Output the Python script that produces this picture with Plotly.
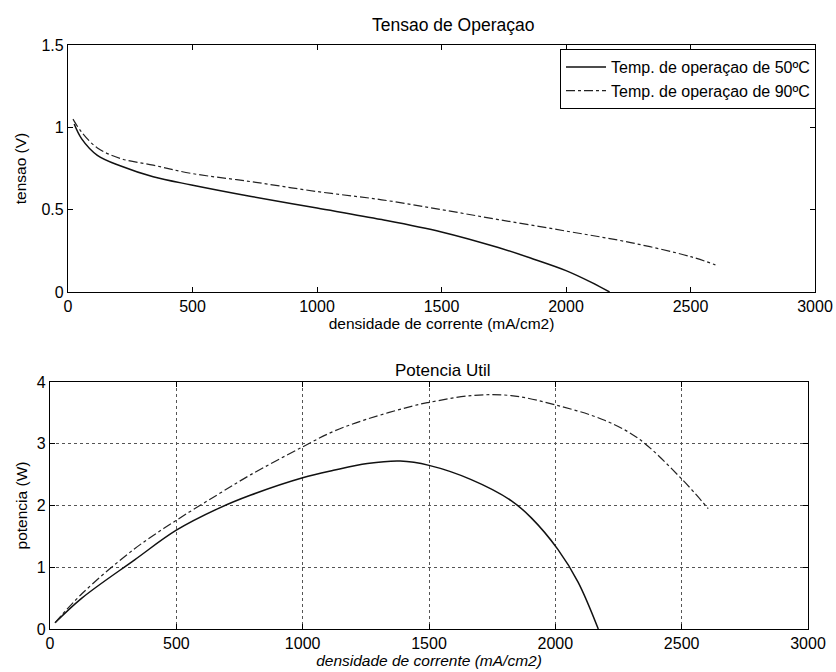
import plotly.graph_objects as go

# ---- data ----
v50_i = [25, 55, 118, 212, 342, 496, 736, 1000, 1260, 1500, 1728, 1860, 2000, 2100, 2175]
v50 = [1.02, 0.93, 0.83, 0.765, 0.70, 0.65, 0.58, 0.51, 0.44, 0.365, 0.27, 0.205, 0.13, 0.06, 0.0]

v90_i = [20, 55, 118, 212, 342, 496, 736, 1000, 1260, 1500, 1728, 2000, 2260, 2500, 2600]
v90 = [1.05, 0.97, 0.875, 0.81, 0.77, 0.72, 0.67, 0.61, 0.56, 0.50, 0.44, 0.37, 0.30, 0.215, 0.165]

p50_i = [20, 126, 335, 500, 665, 795, 1000, 1122, 1256, 1386, 1500, 1667, 1825, 1905, 2010, 2090, 2170]
p50 = [0.1, 0.5, 1.12, 1.6, 1.95, 2.17, 2.45, 2.57, 2.68, 2.72, 2.65, 2.42, 2.08, 1.8, 1.29, 0.76, 0.0]

p90_i = [20, 126, 335, 500, 665, 795, 1000, 1122, 1256, 1453, 1500, 1667, 1825, 2000, 2195, 2330, 2500, 2605]
p90 = [0.1, 0.57, 1.3, 1.76, 2.18, 2.5, 2.95, 3.2, 3.4, 3.63, 3.67, 3.78, 3.78, 3.63, 3.38, 3.08, 2.43, 1.95]

names = ["Temp. de operaçao de 50ºC", "Temp. de operaçao de 90ºC"]
titles = ["Tensao de Operaçao", "Potencia Util"]
xlabel = "densidade de corrente (mA/cm2)"
ylabels = ["tensao (V)", "potencia (W)"]
xticks = [0, 500, 1000, 1500, 2000, 2500, 3000]
yticks_top = [0, 0.5, 1, 1.5]
yticks_bot = [0, 1, 2, 3, 4]

W, H = 836, 672
FONT = "Liberation Sans, Arial, Helvetica, sans-serif"

fig = go.Figure()
line50 = dict(color="#111111", width=1.5)
line90 = dict(color="#222222", width=1.2, dash="dashdot")

fig.add_trace(go.Scatter(x=v50_i, y=v50, mode="lines", name=names[0], line=line50,
                         line_shape="spline", xaxis="x", yaxis="y"))
fig.add_trace(go.Scatter(x=v90_i, y=v90, mode="lines", name=names[1], line=line90,
                         line_shape="spline", xaxis="x", yaxis="y"))
fig.add_trace(go.Scatter(x=p50_i, y=p50, mode="lines", name=names[0], line=line50,
                         line_shape="spline", xaxis="x2", yaxis="y2", showlegend=False))
fig.add_trace(go.Scatter(x=p90_i, y=p90, mode="lines", name=names[1], line=line90,
                         line_shape="spline", xaxis="x2", yaxis="y2", showlegend=False))

def px_x(p):
    return p / W

def px_y(p):
    return 1 - p / H

common = dict(showline=True, linecolor="black", linewidth=1.2, mirror="allticks",
              ticks="inside", ticklen=5, tickcolor="black", zeroline=False,
              automargin=False,
              tickfont=dict(family=FONT, size=16, color="black"))

fig.update_layout(
    width=W, height=H,
    margin=dict(l=0, r=0, t=0, b=0, autoexpand=False),
    paper_bgcolor="white", plot_bgcolor="white",
    font=dict(family=FONT, color="black"),
    xaxis=dict(domain=[px_x(68), px_x(815)], range=[0, 3000], tickvals=xticks,
               anchor="y", showgrid=False,
               title=dict(text=xlabel, font=dict(size=15.5), standoff=2), **common),
    yaxis=dict(domain=[px_y(292), px_y(45)], range=[0, 1.5], tickvals=yticks_top,
               anchor="x", showgrid=False,
               title=dict(text=ylabels[0], font=dict(size=15.5), standoff=11), **common),
    xaxis2=dict(domain=[px_x(50), px_x(808)], range=[0, 3000], tickvals=xticks,
                anchor="y2", showgrid=True, gridcolor="#555555", griddash="dot", gridwidth=1,
                title=dict(text="<i>" + xlabel + "</i>", font=dict(size=15.5), standoff=2), **common),
    yaxis2=dict(domain=[px_y(629), px_y(382)], range=[0, 4], tickvals=yticks_bot,
                anchor="x2", showgrid=True, gridcolor="#555555", griddash="dot", gridwidth=1,
                title=dict(text=ylabels[1], font=dict(size=15.5), standoff=5), **common),
    legend=dict(x=px_x(816), y=px_y(49), xanchor="right", yanchor="top",
                bgcolor="white", bordercolor="black", borderwidth=1,
                font=dict(family=FONT, size=16, color="black"),
                tracegroupgap=0, itemwidth=40),
    showlegend=True,
    annotations=[
        dict(text=titles[0], x=px_x(453), y=px_y(25), xref="paper", yref="paper",
             xanchor="center", yanchor="middle",
             showarrow=False, font=dict(family=FONT, size=17.5, color="black")),
        dict(text=titles[1], x=px_x(442), y=px_y(370), xref="paper", yref="paper",
             xanchor="center", yanchor="middle",
             showarrow=False, font=dict(family=FONT, size=17, color="black")),
    ],
)

fig.write_html(
    "out.html",
    config={"displayModeBar": False},
    post_script="document.body.style.margin='0';document.body.style.overflow='hidden';",
)
